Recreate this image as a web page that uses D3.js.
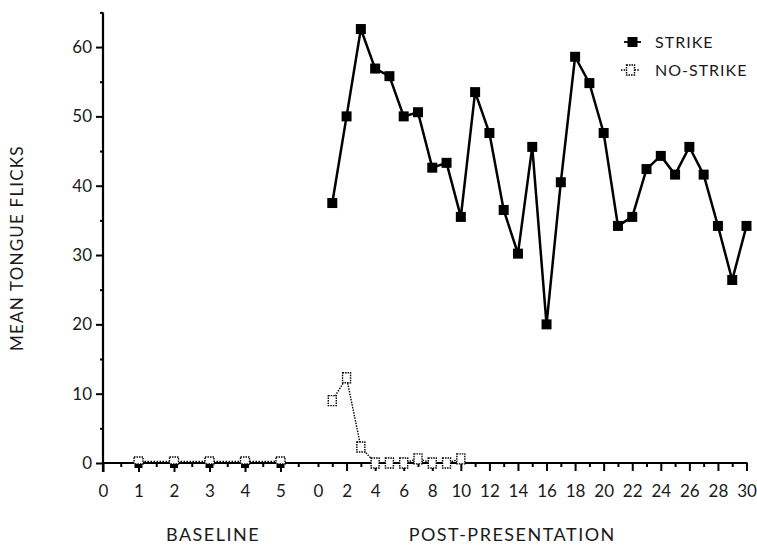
<!DOCTYPE html>
<html><head><meta charset="utf-8">
<script src="https://cdn.jsdelivr.net/npm/d3@7"></script>
<style>
html,body{margin:0;padding:0;background:#fff;}
text{font-family:Lato,"DejaVu Sans",sans-serif;font-weight:400;fill:#1a1a1a;}
</style></head>
<body><svg id="c" width="757" height="546"></svg>
<script>
// ---- data ----
const baselineSessions = [1, 2, 3, 4, 5];
const baselineStrike   = [0, 0, 0, 0, 0];
const baselineNoStrike = [0, 0, 0, 0, 0];
const postSessions = [1,2,3,4,5,6,7,8,9,10,11,12,13,14,15,16,17,18,19,20,21,22,23,24,25,26,27,28,29,30];
const postStrike = [37.5,50,62.6,56.9,55.8,50,50.6,42.6,43.3,35.5,53.5,47.6,36.5,30.2,45.6,20,40.5,58.6,54.8,47.6,34.2,35.5,42.4,44.3,41.6,45.6,41.6,34.2,26.4,34.2];
const postNoStrikeSessions = [1,2,3,4,5,6,7,8,9,10];
const postNoStrike = [9,12.3,2.3,0,0,0,0.6,0,0,0.6];
const yTicks = [0,10,20,30,40,50,60];
const yMinor = [5,15,25,35,45,55,65];
const baseTicks = [0,1,2,3,4,5];
const baseMinor = [0.5,1.5,2.5,3.5,4.5,5.5];
const postTicks = [0,2,4,6,8,10,12,14,16,18,20,22,24,26,28,30];
const postMinor = [1,3,5,7,9,11,13,15,17,19,21,23,25,27,29];
const seriesNames = ["STRIKE", "NO-STRIKE"];

const svg = d3.select("#c");
const xb = d3.scaleLinear().domain([0,5]).range([103,280.5]);
const xp = d3.scaleLinear().domain([0,30]).range([318,746.5]);
const y  = d3.scaleLinear().domain([0,65]).range([463,12.4]);

const fs = 17;
const FONT = "Lato, 'DejaVu Sans', sans-serif";
// axes
const gy = svg.append("g").attr("transform",`translate(${xb(0)},0)`);
gy.call(d3.axisLeft(y).tickValues(yTicks).tickSize(7).tickPadding(4).tickFormat(d3.format("d")));
gy.append("g").call(d3.axisLeft(y).tickValues(yMinor).tickSize(3).tickFormat(""));
gy.selectAll(".domain").remove();
gy.append("line").attr("x1",0).attr("x2",0).attr("y1",y(65)).attr("y2",y(0)+9).attr("stroke","#000").attr("stroke-width",2.2);

const gx = svg.append("g").attr("transform",`translate(0,${y(0)})`);
gx.append("g").call(d3.axisBottom(xb).tickValues(baseTicks).tickSize(9).tickPadding(13).tickFormat(d3.format("d")));
gx.append("g").call(d3.axisBottom(xb).tickValues(baseMinor).tickSize(4).tickFormat(""));
const gp = gx.append("g").call(d3.axisBottom(xp).tickValues(postTicks).tickSize(8).tickPadding(14).tickFormat(d3.format("d")));
gx.append("g").call(d3.axisBottom(xp).tickValues(postMinor).tickSize(4).tickFormat(""));
gx.selectAll(".domain").remove();
gx.append("line").attr("x1",xb(0)).attr("x2",xp(30)+1).attr("y1",0).attr("y2",0).attr("stroke","#000").attr("stroke-width",2.2);
svg.selectAll(".tick line").attr("stroke","#000").attr("stroke-width",2);
svg.selectAll(".tick text").attr("font-size",fs).attr("font-family",FONT).attr("fill","#1a1a1a");
gp.selectAll(".tick").filter(d=>d===0).select("line").attr("y2",4);

// axis titles
svg.append("text").attr("transform",`translate(23,${y(31)}) rotate(-90)`).attr("text-anchor","middle").attr("font-size",17).attr("letter-spacing",1.2).text("MEAN TONGUE FLICKS");
svg.append("text").attr("x",xb(3.1)).attr("y",541).attr("text-anchor","middle").attr("font-size",18).attr("letter-spacing",1.5).text("BASELINE");
svg.append("text").attr("x",xp(13.6)).attr("y",541).attr("text-anchor","middle").attr("font-size",18).attr("letter-spacing",1.5).text("POST-PRESENTATION");

// lines
const post = postSessions.map((s,i)=>({s, v:postStrike[i]}));
const postNS = postNoStrikeSessions.map((s,i)=>({s, v:postNoStrike[i]}));
const base = baselineSessions.map((s,i)=>({s, v:baselineStrike[i], n:baselineNoStrike[i]}));

svg.append("path").datum(base).attr("fill","none").attr("stroke","#000").attr("stroke-width",1.3).attr("stroke-dasharray","1.5,1.5")
  .attr("d",d3.line().x(d=>xb(d.s)).y(d=>y(d.n)-1.5));
svg.append("path").datum(postNS).attr("fill","none").attr("stroke","#000").attr("stroke-width",1.4).attr("stroke-dasharray","1.5,1.2")
  .attr("d",d3.line().x(d=>xp(d.s)).y(d=>y(d.v)));
svg.append("path").datum(post).attr("fill","none").attr("stroke","#000").attr("stroke-width",2.5)
  .attr("d",d3.line().x(d=>xp(d.s)).y(d=>y(d.v)));

// markers
const S = 10;
svg.append("g").selectAll("rect").data(base).join("rect")
  .attr("x",d=>xb(d.s)-4).attr("y",d=>y(d.v)-2).attr("width",8).attr("height",7).attr("fill","#000");
svg.append("g").selectAll("rect").data(base).join("rect")
  .attr("x",d=>xb(d.s)-4.5).attr("y",d=>y(d.n)-6).attr("width",9).attr("height",7).attr("fill","#fff")
  .attr("stroke","#000").attr("stroke-width",1.4).attr("stroke-dasharray","1.5,1");
svg.append("g").selectAll("rect").data(post).join("rect")
  .attr("x",d=>xp(d.s)-S/2).attr("y",d=>y(d.v)-S/2).attr("width",S).attr("height",S).attr("fill","#000");
svg.append("g").selectAll("rect").data(postNS).join("rect")
  .attr("x",d=>xp(d.s)-4).attr("y",d=>y(d.v)-5).attr("width",8).attr("height",10).attr("fill","#fff")
  .attr("stroke","#000").attr("stroke-width",1.4).attr("stroke-dasharray","1.5,1");

// legend
const lg = svg.append("g");
const ly = [42, 70];
lg.append("line").attr("x1",624).attr("x2",641).attr("y1",ly[0]).attr("y2",ly[0]).attr("stroke","#000").attr("stroke-width",1.8);
lg.append("rect").attr("x",627.5).attr("y",ly[0]-5).attr("width",10).attr("height",10).attr("fill","#000");
lg.append("line").attr("x1",621).attr("x2",640).attr("y1",ly[1]).attr("y2",ly[1]).attr("stroke","#000").attr("stroke-width",1.3).attr("stroke-dasharray","1.5,1.2");
lg.append("rect").attr("x",626.5).attr("y",ly[1]-5).attr("width",8).attr("height",10).attr("fill","#fff").attr("stroke","#000").attr("stroke-width",1.4).attr("stroke-dasharray","1.5,1");
lg.selectAll("text.lt").data(seriesNames).join("text").attr("class","lt")
  .attr("x",655).attr("y",(d,i)=>ly[i]+6).attr("font-size",16).attr("letter-spacing",1).text(d=>d);
</script></body></html>
